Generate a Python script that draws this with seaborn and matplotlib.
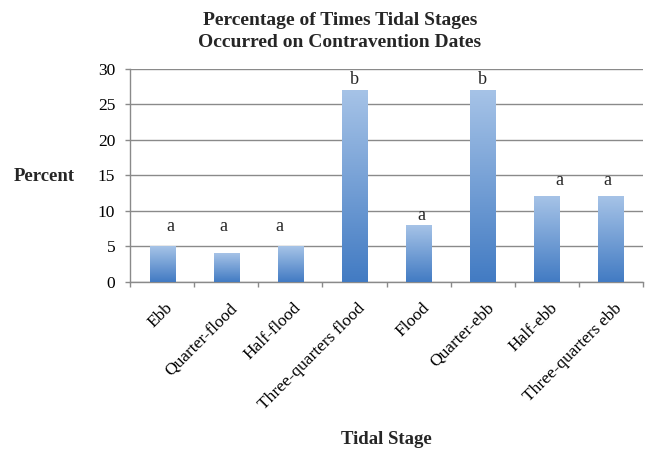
import numpy as np
import pandas as pd
import matplotlib
matplotlib.use('Agg')
import matplotlib.pyplot as plt
import matplotlib.transforms as mtransforms
from matplotlib.colors import LinearSegmentedColormap
from matplotlib.ticker import FixedLocator, MultipleLocator
import seaborn as sns

# -> DATA
stages = ['Ebb', 'Quarter-flood', 'Half-flood', 'Three-quarters flood',
          'Flood', 'Quarter-ebb', 'Half-ebb', 'Three-quarters ebb']
percent = [5, 4, 5, 27, 8, 27, 12, 12]
letters = ['a', 'a', 'a', 'b', 'a', 'b', 'a', 'a']

# letters were placed by hand in the original, so keep their spots apart
letter_base = [7.2, 7.2, 7.2, 27.9, 8.75, 27.9, 13.6, 13.6]
letter_dx = [0.13, -0.05, -0.17, 0.0, 0.05, 0.0, 0.19, -0.06]

df = pd.DataFrame({'stage': stages, 'percent': percent})

# -> STYLE
sns.set_style('white')
plt.rcParams['font.family'] = ['Liberation Serif', 'DejaVu Serif']
GRAY = '#8a8a8a'

fig = plt.figure(figsize=(6.45, 4.51), dpi=100)
ax = fig.add_axes([0.2016, 0.3747, 0.7953, 0.4725])

sns.barplot(data=df, x='stage', y='percent', width=0.39, color='#6f9bd4', ax=ax)

# swap the flat bars for a vertical gradient (light top, darker bottom)
cmap = LinearSegmentedColormap.from_list('bar', ['#427bc3', '#a6c3e7'])
grad = np.linspace(0, 1, 256).reshape(-1, 1)
for p in list(ax.patches):
    x0, y0, w, h = p.get_x(), p.get_y(), p.get_width(), p.get_height()
    ax.imshow(grad, cmap=cmap, origin='lower', aspect='auto',
              extent=[x0, x0 + w, y0, y0 + h], zorder=3, interpolation='bilinear')
    p.set_visible(False)

ax.set_xlim(-0.5, 7.5)
ax.set_ylim(0, 30)

# grid + spines
ax.yaxis.set_major_locator(MultipleLocator(5))
ax.yaxis.grid(True, color=GRAY, lw=1.0)
ax.set_axisbelow(True)
for s in ['top', 'right']:
    ax.spines[s].set_visible(False)
for s in ['left', 'bottom']:
    ax.spines[s].set_color(GRAY)
    ax.spines[s].set_linewidth(1.0)

# ticks
ax.tick_params(axis='y', which='major', direction='out', length=3.6, width=1,
               color=GRAY, labelsize=12.5, labelcolor='black', pad=7, left=True)
ax.xaxis.set_minor_locator(FixedLocator(np.arange(-0.5, 8, 1)))
ax.tick_params(axis='x', which='minor', direction='out', length=3.6, width=1,
               color=GRAY, bottom=True)
ax.tick_params(axis='x', which='major', length=0, pad=13, labelsize=12.5,
               labelcolor='black')
ax.set_xticks(range(len(stages)))
ax.set_xticklabels(stages, rotation=45, ha='right', va='top', rotation_mode='anchor')
shift = mtransforms.ScaledTranslation(3 / 100, 0, fig.dpi_scale_trans)
for lbl in ax.get_xticklabels():
    lbl.set_transform(lbl.get_transform() + shift)

ax.set_xlabel('')
ax.set_ylabel('')

# significance letters
for i, (let, yb, dx) in enumerate(zip(letters, letter_base, letter_dx)):
    ax.text(i + dx, yb, let, ha='center', va='baseline', fontsize=13, zorder=4)

# titles / axis labels
fig.text(0.527, 0.9446, 'Percentage of Times Tidal Stages',
         ha='center', va='baseline', fontsize=14, fontweight='bold')
fig.text(0.527, 0.8958, 'Occurred on Contravention Dates',
         ha='center', va='baseline', fontsize=14, fontweight='bold')
fig.text(0.068, 0.5993, 'Percent', ha='center', va='baseline', fontsize=13.5, fontweight='bold')
fig.text(0.5995, 0.0155, 'Tidal Stage', ha='center', va='baseline', fontsize=13.5, fontweight='bold')

fig.savefig('out.png', dpi=100)
